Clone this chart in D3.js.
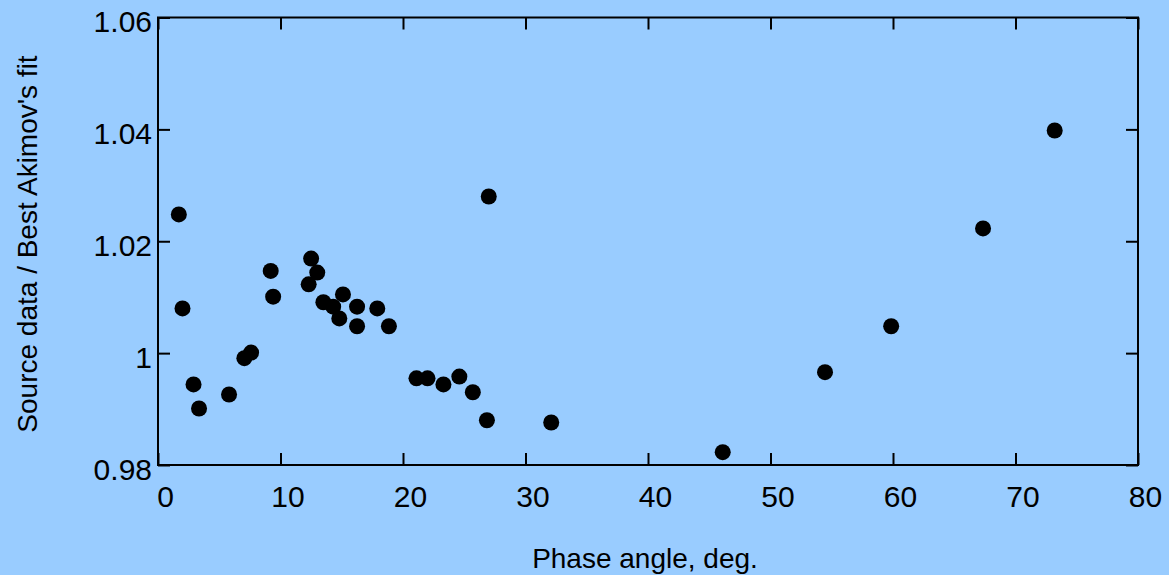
<!DOCTYPE html>
<html>
<head>
<meta charset="utf-8">
<script src="https://cdn.jsdelivr.net/npm/d3@7"></script>
<style>
  html, body { margin: 0; padding: 0; background: #99CCFF; }
  svg { display: block; font-family: Arial, "Liberation Sans", sans-serif; }
</style>
</head>
<body>
<svg id="chart" width="1169" height="575"></svg>
<script>
const phaseAngle = [1.7, 2.0, 2.9, 3.35, 5.8, 7.05, 7.6, 9.2, 9.4, 12.3, 12.5, 13.0, 13.5, 14.3, 14.8, 15.1,
  16.25, 16.25, 17.9, 18.85, 21.1, 22.0, 23.3, 24.6, 25.7, 26.85, 27.0, 32.1, 46.1, 54.45, 59.85, 67.35, 73.2];
const ratio = [1.0248, 1.0080, 0.9944, 0.9901, 0.9926, 0.9991, 1.0001, 1.0147, 1.0101, 1.0123, 1.0169, 1.0144,
  1.0091, 1.0083, 1.0062, 1.0105, 1.0083, 1.0048, 1.0080, 1.0048, 0.9955, 0.9955, 0.9944, 0.9958, 0.9930,
  0.9880, 1.0280, 0.9876, 0.9823, 0.9966, 1.0048, 1.0223, 1.0398];
const xTicks = [0, 10, 20, 30, 40, 50, 60, 70, 80];
const yTicks = [0.98, 1.00, 1.02, 1.04, 1.06];
const yTickLabels = ["0.98", "1", "1.02", "1.04", "1.06"];
const xTitle = "Phase angle, deg.";
const yTitle = "Source data / Best Akimov's fit";

const svg = d3.select("#chart");
const pLeft = 158, pRight = 1138, pTop = 17.5, pBottom = 465;

const x = d3.scaleLinear().domain([0, 80]).range([pLeft, pRight]);
const y = d3.scaleLinear().domain([0.98, 1.06]).range([pBottom, pTop]);

const tickLen = 12;

// bottom axis
const gx = svg.append("g").attr("transform", `translate(0,${pBottom})`)
  .call(d3.axisBottom(x).tickValues(xTicks).tickSizeInner(-tickLen).tickSizeOuter(0).tickPadding(21).tickFormat(d3.format("d")));
gx.selectAll("text").attr("dx", 7);

// top axis
const gxt = svg.append("g").attr("transform", `translate(0,${pTop})`)
  .call(d3.axisTop(x).tickValues(xTicks).tickSizeInner(-tickLen).tickSizeOuter(0).tickFormat(""));

// left axis
const gy = svg.append("g").attr("transform", `translate(${pLeft},0)`)
  .call(d3.axisLeft(y).tickValues(yTicks).tickSizeInner(-tickLen).tickSizeOuter(0).tickPadding(6)
    .tickFormat((d, i) => yTickLabels[i]));
gy.selectAll("text").attr("dy", "0.48em");

// right axis
const gyr = svg.append("g").attr("transform", `translate(${pRight},0)`)
  .call(d3.axisRight(y).tickValues(yTicks).tickSizeInner(-tickLen).tickSizeOuter(0).tickFormat(""));

[gx, gxt, gy, gyr].forEach(g => {
  g.select(".domain").remove();
  g.selectAll("line").attr("stroke", "#000").attr("stroke-width", 2);
  g.selectAll("text").attr("fill", "#000").style("font-size", "30px")
    .style("font-family", "Arial, 'Liberation Sans', sans-serif");
});

// frame
svg.append("rect")
  .attr("x", pLeft).attr("y", pTop)
  .attr("width", pRight - pLeft).attr("height", pBottom - pTop)
  .attr("fill", "none").attr("stroke", "#000").attr("stroke-width", 2);

// points
svg.append("g").selectAll("circle")
  .data(phaseAngle.map((d, i) => [d, ratio[i]]))
  .join("circle")
  .attr("cx", d => x(d[0]))
  .attr("cy", d => y(d[1]))
  .attr("r", 8)
  .attr("fill", "#000");

// titles
svg.append("text")
  .attr("x", 645).attr("y", 568)
  .attr("text-anchor", "middle")
  .style("font-size", "28px").attr("fill", "#000")
  .text(xTitle);

svg.append("text")
  .attr("transform", `translate(37,244) rotate(-90)`)
  .attr("text-anchor", "middle")
  .style("font-size", "28px").attr("fill", "#000")
  .text(yTitle);
</script>
</body>
</html>
